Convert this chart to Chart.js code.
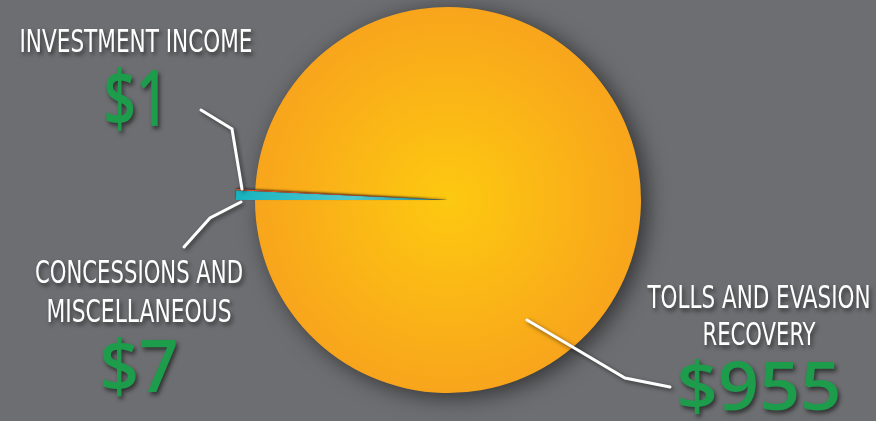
<!DOCTYPE html>
<html>
<head>
<meta charset="utf-8">
<script src="https://cdn.jsdelivr.net/npm/chart.js@4/dist/chart.umd.min.js"></script>
<style>
  html, body { margin: 0; padding: 0; background: #6d6e71; }
  #wrap { position: relative; width: 876px; height: 421px; }
</style>
</head>
<body>
<div id="wrap"><canvas id="c"></canvas></div>
<script>
// ---- data ----
const categories = ["Tolls and Evasion Recovery", "Concessions and Miscellaneous", "Investment Income"];
const values = [955, 7, 1];
const valueLabels = ["$955", "$7", "$1"];
const captionLines = [["TOLLS AND EVASION", "RECOVERY"], ["CONCESSIONS AND", "MISCELLANEOUS"], ["INVESTMENT INCOME"]];

// ---- style / layout ----
const GREEN = "#1d9c4b";
const sliceExtend = [0, 19, 19];
const labelLayout = [
  { cx: 759, lines: [{ y: 308, w: 223 }, { y: 345, w: 113 }], val: { y: 410, cap: 48, w: 165 },
    leader: [[527, 320], [625, 378], [670, 387]] },
  { cx: 139, lines: [{ y: 283, w: 208 }, { y: 322, w: 185 }], val: { y: 392, cap: 52, w: 79 },
    leader: [[184, 247], [210, 218], [241, 202]] },
  { cx: 136, lines: [{ y: 52, w: 233 }], val: { y: 126, cap: 56, w: 65 },
    leader: [[201, 110], [232, 129], [242, 189]] }
];

// small slices start exactly at 9 o'clock; the big slice ends there
const total = values.reduce((s, v) => s + v, 0);
const rotationDeg = 270 + (values[1] + values[2]) / total * 360;

function sliceColor(ctx) {
  const chart = ctx.chart;
  const i = ctx.dataIndex;
  const a = chart.chartArea;
  const fallback = ["#f9a61b", "#20b6c1", "#e0512a"][i];
  if (!a || !isFinite(a.left) || a.right - a.left <= 0) return fallback;
  const cx = (a.left + a.right) / 2, cy = (a.top + a.bottom) / 2;
  const r = Math.min(a.right - a.left, a.bottom - a.top) / 2;
  const c = chart.ctx;
  if (i === 0) {
    const g = c.createRadialGradient(cx, cy, 0, cx, cy, r);
    g.addColorStop(0, "#fdc910");
    g.addColorStop(1, "#f8a51c");
    return g;
  }
  if (i === 1) {
    const g = c.createLinearGradient(cx - r - 20, 0, cx, 0);
    g.addColorStop(0, "#17b3bf");
    g.addColorStop(0.55, "#4fc8d0");
    g.addColorStop(0.85, "#2f9ea6");
    g.addColorStop(1, "#3a4a40");
    return g;
  }
  return "#e0512a";
}

const extendPlugin = {
  id: "extend",
  afterDatasetsUpdate(chart) {
    const meta = chart.getDatasetMeta(0);
    meta.data.forEach((el, i) => {
      el.outerRadius += sliceExtend[i];
      if (i > 0) {
        const baseDraw = el.draw.bind(el);
        el.draw = function (ctx, area) {
          ctx.save();
          ctx.shadowColor = "rgba(0,0,0,0.6)";
          ctx.shadowBlur = 2;
          ctx.shadowOffsetX = 0;
          ctx.shadowOffsetY = -1;
          baseDraw(ctx, area);
          ctx.restore();
        };
      }
    });
  },
  beforeDatasetDraw(chart) {
    const c = chart.ctx;
    c.save();
    c.shadowColor = "rgba(0,0,0,0.55)";
    c.shadowBlur = 22;
    c.shadowOffsetX = 6;
    c.shadowOffsetY = 4;
  },
  afterDatasetDraw(chart) {
    chart.ctx.restore();
  }
};

function fitText(c, text, cx, baseline, cap, width, family, weight, capRatio) {
  const size = cap / capRatio;
  c.font = weight + " " + size + "px " + family;
  const m = c.measureText(text).width;
  const sx = width / m;
  c.save();
  c.translate(cx, baseline);
  c.scale(sx, 1);
  c.textAlign = "center";
  c.textBaseline = "alphabetic";
  c.fillText(text, 0, 0);
  c.restore();
}

const labelPlugin = {
  id: "labels",
  afterDraw(chart) {
    const c = chart.ctx;
    c.save();
    c.shadowColor = "rgba(0,0,0,0.55)";
    c.shadowBlur = 4;
    c.shadowOffsetX = 2;
    c.shadowOffsetY = 2;
    c.strokeStyle = "#ffffff";
    c.lineWidth = 3;
    c.lineCap = "round";
    c.lineJoin = "miter";
    labelLayout.forEach(L => {
      c.beginPath();
      L.leader.forEach((p, k) => k ? c.lineTo(p[0], p[1]) : c.moveTo(p[0], p[1]));
      c.stroke();
    });
    c.shadowBlur = 4;
    c.shadowOffsetX = 2;
    c.shadowOffsetY = 3;
    labelLayout.forEach((L, i) => {
      c.fillStyle = "#ffffff";
      captionLines[i].forEach((t, k) => {
        fitText(c, t, L.cx, L.lines[k].y, 23, L.lines[k].w, "'Liberation Sans Narrow', 'DejaVu Sans Condensed', sans-serif", "normal", 0.73);
      });
      c.fillStyle = GREEN;
      fitText(c, valueLabels[i], L.cx, L.val.y, L.val.cap, L.val.w, "'Open Sans', Lato, sans-serif", "600", 0.714);
    });
    c.restore();
  }
};

new Chart(document.getElementById("c"), {
  type: "pie",
  data: {
    labels: categories,
    datasets: [{
      data: values,
      backgroundColor: sliceColor,
      borderWidth: 0,
      clip: false
    }]
  },
  options: {
    responsive: true,
    maintainAspectRatio: false,
    animation: false,
    rotation: rotationDeg,
    layout: { padding: { left: 255, right: 235, top: 7, bottom: 28 } },
    plugins: { legend: { display: false }, tooltip: { enabled: false } }
  },
  plugins: [extendPlugin, labelPlugin]
});
</script>
</body>
</html>
